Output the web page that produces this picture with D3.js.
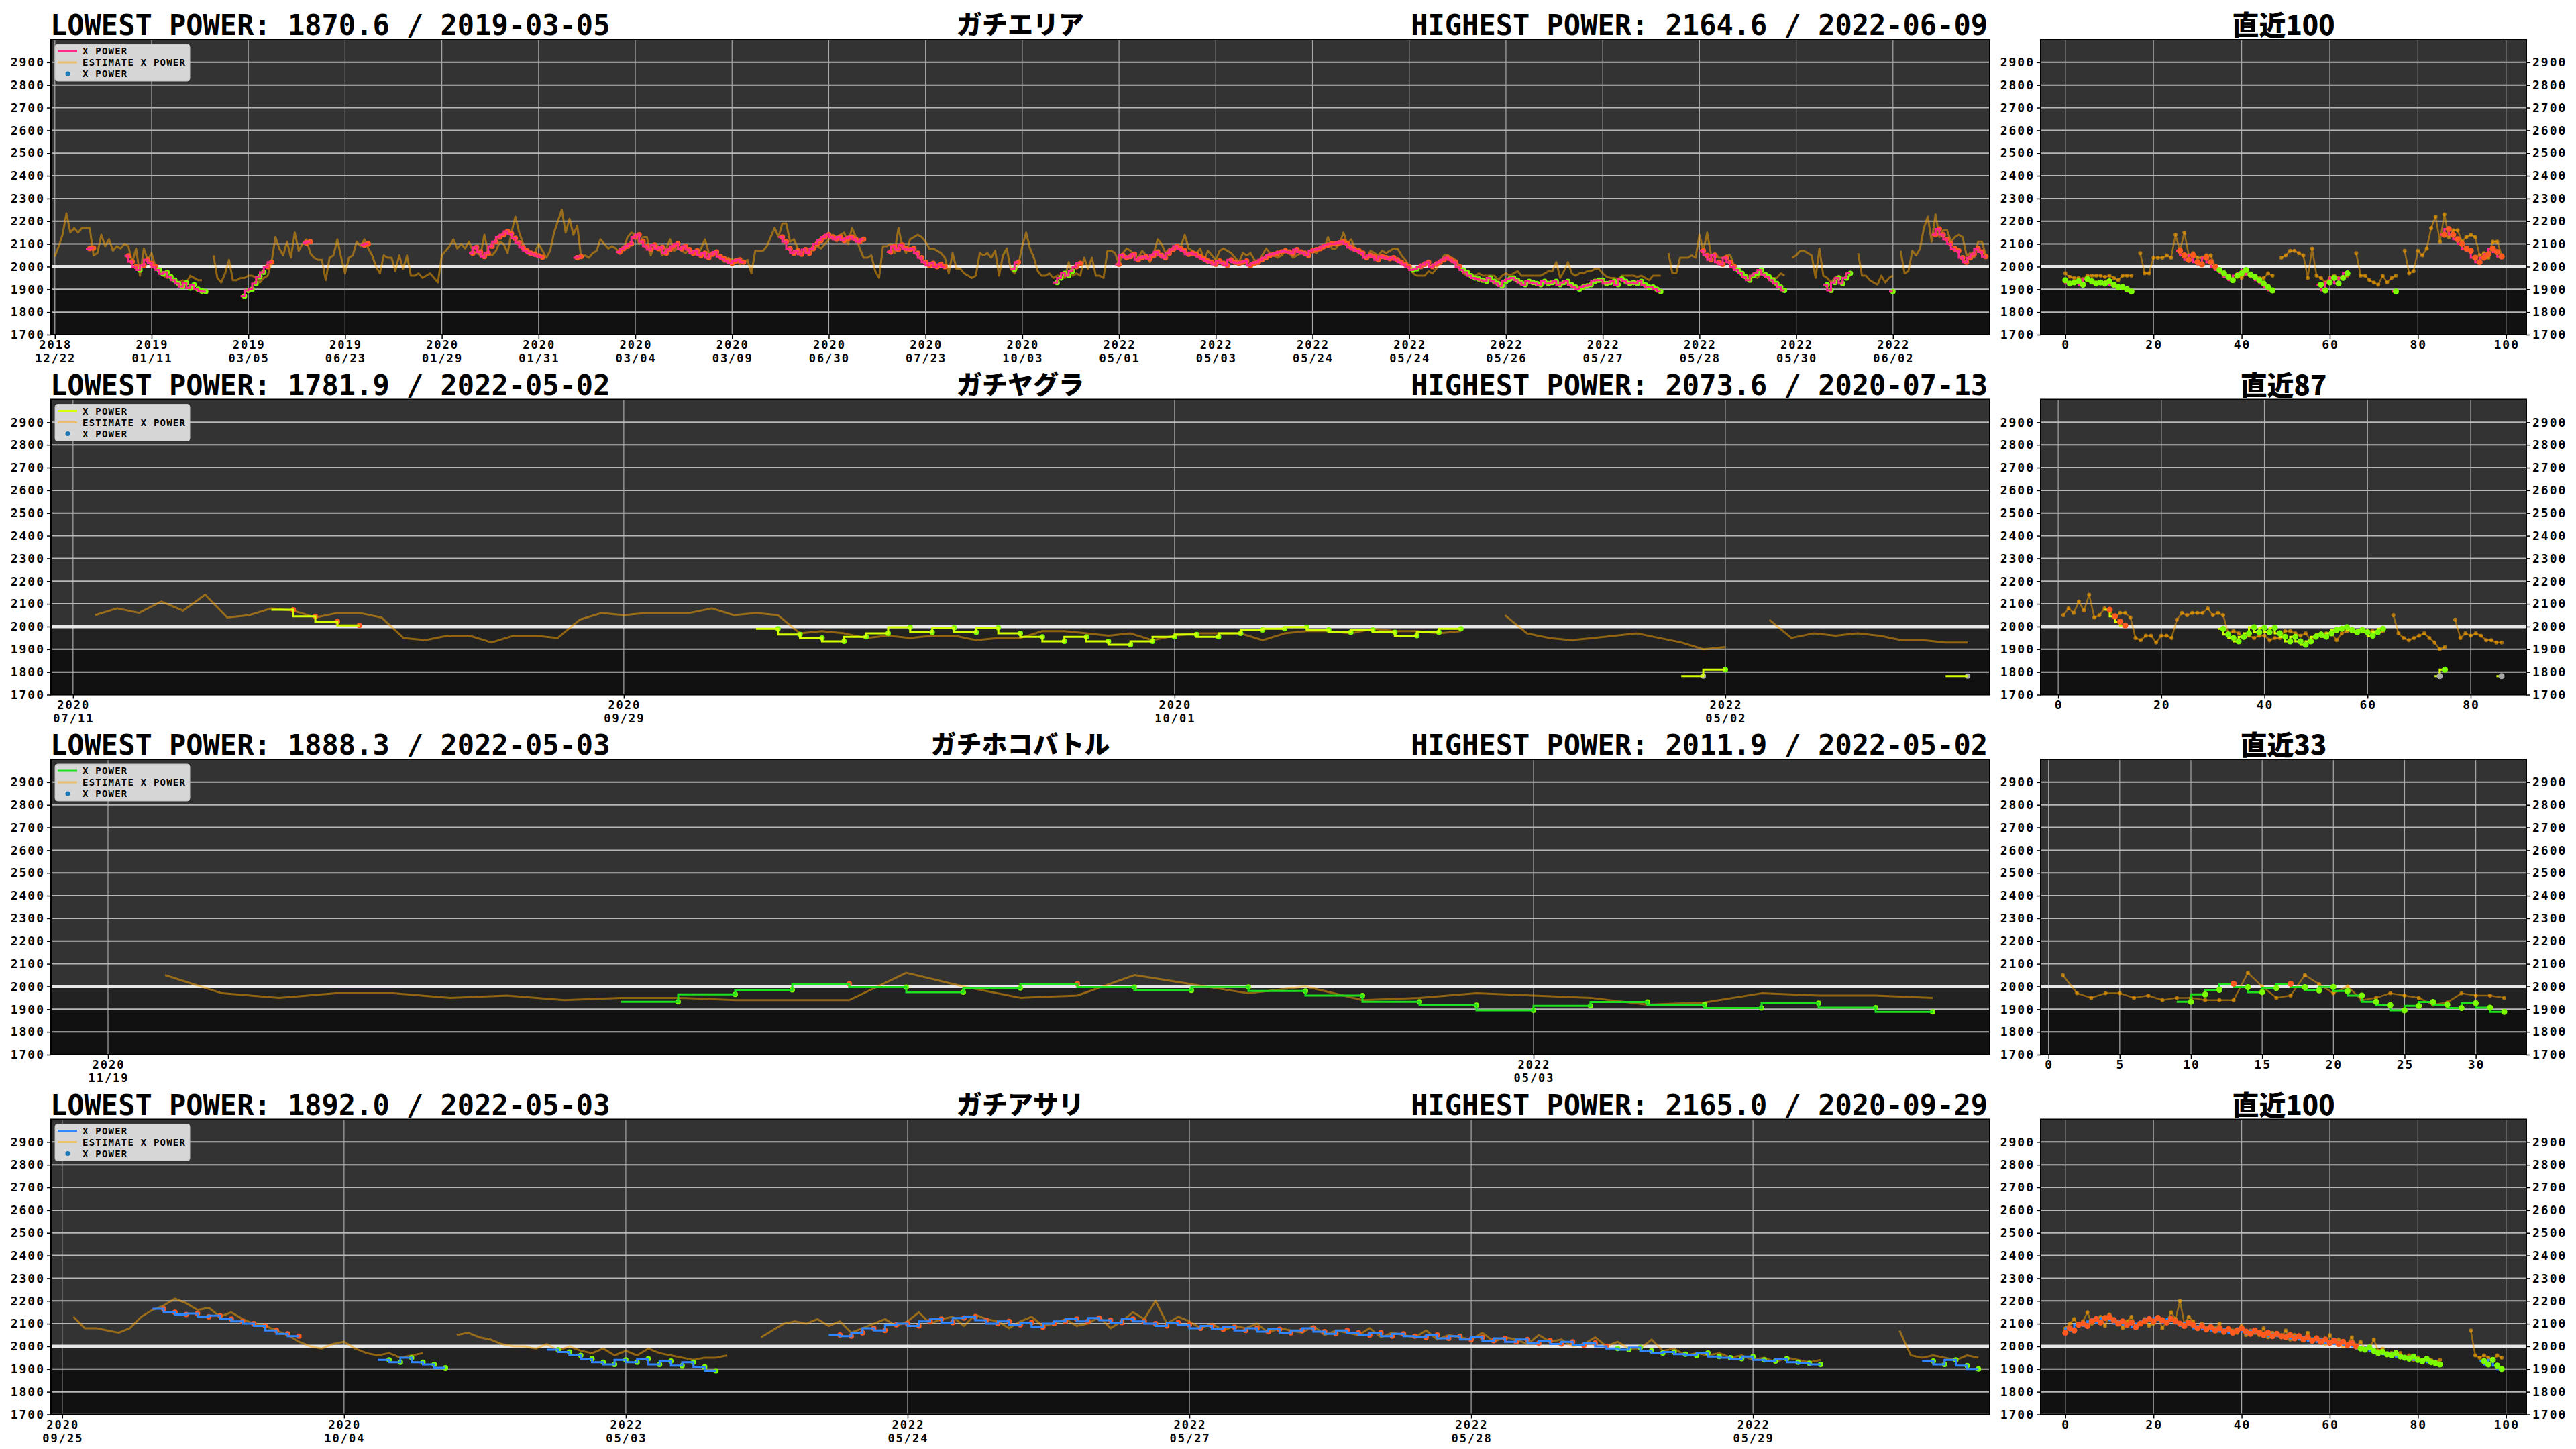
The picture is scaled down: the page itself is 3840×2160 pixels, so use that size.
<!DOCTYPE html>
<html>
<head>
<meta charset="utf-8">
<script src="https://cdn.jsdelivr.net/npm/d3@7"></script>
<style>
  html, body { margin: 0; padding: 0; background: #fff; }
  svg { display: block; }
  .mono { font-family: "DejaVu Sans Mono", "Liberation Mono", monospace; font-weight: bold; }
  .jp { font-family: "Noto Sans CJK JP", sans-serif; font-weight: 900; }
</style>
</head>
<body>
<svg id="chart" width="3840" height="2160"></svg>
<script>
// ---------------- data ----------------
const modeNames = ["ガチエリア", "ガチヤグラ", "ガチホコバトル", "ガチアサリ"];
const lowestText = [
  "LOWEST POWER: 1870.6 / 2019-03-05",
  "LOWEST POWER: 1781.9 / 2022-05-02",
  "LOWEST POWER: 1888.3 / 2022-05-03",
  "LOWEST POWER: 1892.0 / 2022-05-03"
];
const highestText = [
  "HIGHEST POWER: 2164.6 / 2022-06-09",
  "HIGHEST POWER: 2073.6 / 2020-07-13",
  "HIGHEST POWER: 2011.9 / 2022-05-02",
  "HIGHEST POWER: 2165.0 / 2020-09-29"
];
const recentTitles = ["直近100", "直近87", "直近33", "直近100"];
const recentCounts = [100, 87, 33, 100];
const recentTicks = [
  [0, 20, 40, 60, 80, 100],
  [0, 20, 40, 60, 80],
  [0, 5, 10, 15, 20, 25, 30],
  [0, 20, 40, 60, 80, 100]
];
const recentDomains = [[-5.6, 104.6], [-3.4, 90.8], [-0.55, 33.55], [-5.6, 104.6]];
const lineColors = ["#ff2a8a", "#d4ff00", "#1fe01f", "#2f86ff"];
const yTicks = [1700, 1800, 1900, 2000, 2100, 2200, 2300, 2400, 2500, 2600, 2700, 2800, 2900];

// date labels, one every 25 games
const areaDates = ["2018\n12/22", "2019\n01/11", "2019\n03/05", "2019\n06/23", "2020\n01/29",
  "2020\n01/31", "2020\n03/04", "2020\n03/09", "2020\n06/30", "2020\n07/23",
  "2020\n10/03", "2022\n05/01", "2022\n05/03", "2022\n05/24", "2022\n05/24",
  "2022\n05/26", "2022\n05/27", "2022\n05/28", "2022\n05/30", "2022\n06/02"];
const yaguraDates = ["2020\n07/11", "2020\n09/29", "2020\n10/01", "2022\n05/02"];
const hokoDates = ["2020\n11/19", "2022\n05/03"];
const asariDates = ["2020\n09/25", "2020\n10/04", "2022\n05/03", "2022\n05/24", "2022\n05/27",
  "2022\n05/28", "2022\n05/29"];

// estimate x power per game (null = no estimate)
const areaEst = [
  2045, 2090, 2140, 2235, 2150, 2170, 2150, 2170, 2170, 2170, 2050, 2060, 2140, 2090, 2120,
  2070, 2090, 2080, 2100, 2090, 2020, 2080, 1960, 2080, 2030,
  2060, 2000, 1970, 1960, 1950, 1960, 1940, 1930, 1940, 1930, 1960, 1950, 1940, 1940, null,
  null, 2050, 1950, 1930, 1970, 2030, 1940, 1940, 1950, 1950,
  1960, 1960, 1950, 1930, 1950, 1960, 2020, 2130, 2080, 2050, 2110, 2040, 2150, 2070, 2100,
  2120, 2060, 2040, 2030, 2030, 1940, 2040, 2050, 2120, 2040,
  1970, 2040, 2050, 2110, 2090, 2120, 2080, 2050, 2000, 1970, 2050, 2040, 2040, 1980, 2050,
  1990, 2050, 1960, 1960, 1970, 1950, 1960, 1970, 1950, 1930,
  2050, 2070, 2090, 2120, 2080, 2100, 2080, 2110, 2070, 2060, 2050, 2140, 2060, 2050, 2070,
  2110, 2100, 2060, 2150, 2220, 2150, 2100, 2060, 2050, 2060,
  2100, 2070, 2040, 2070, 2150, 2200, 2250, 2150, 2210, 2140, 2180, 2040, 2050, 2040, 2060,
  2070, 2120, 2100, 2080, 2090, 2080, 2060, 2080, 2130, 2150,
  2140, 2100, 2130, 2130, 2050, 2100, 2090, 2050, 2080, 2120, 2070, 2080, 2070, 2060, 2080,
  2060, 2050, 2080, 2120, 2060, 2050, 2060, 2040, 2020, 2040,
  2030, 2030, 2010, 2020, 2030, 1970, 2070, 2070, 2070, 2090, 2130, 2170, 2130, 2190, 2190,
  2110, 2120, 2080, 2060, 2070, 2060, 2080, 2090, 2080, 2100,
  2120, 2140, 2130, 2140, 2150, 2100, 2170, 2130, 2080, 2040, 2040, 2050, 1980, 1950, 2090,
  2090, 2100, 2060, 2170, 2090, 2060, 2120, 2130, 2140, 2130,
  2110, 2080, 2080, 2070, 2060, 2040, 1970, 2060, 1990, 1990, 1970, 1960, 1950, 1960, 2060,
  2050, 2060, 2040, 2070, 1960, 2050, 2080, 1990, 1970, 2010,
  2090, 2150, 2080, 2040, 1980, 1960, 1960, 1970, 1950, 1960, 1960, 1950, 2020, 1960, 1970,
  1960, 2040, 1990, 2040, 1960, 1960, 1950, 2070, 2070, 2060,
  2010, 2060, 2080, 2070, 2050, 2040, 2070, 2050, 2020, 2060, 2120, 2100, 2060, 2080, 2070,
  2080, 2090, 2140, 2080, 2070, 2060, 2080, 2030, 2070, 2050,
  2030, 2070, 2080, 2070, 2060, 2040, 2020, 2060, 2050, 2060, 2030, 2020, 2050, 2080, 2060,
  2050, 2040, 2050, 2070, 2060, 2040, 2050, 2060, 2060, 2060,
  2070, 2060, 2080, 2080, 2130, 2080, 2080, 2100, 2150, 2100, 2120, 2080, 2060, 2050, 2040,
  2070, 2060, 2050, 2070, 2060, 2070, 2080, 2080, 2050, 2030,
  2000, 1970, 1960, 1960, 1960, 1980, 1970, 1990, 2020, 2050, 2050, 2040, 2030, 2000, 1970,
  1960, 1960, 1960, 1970, 1960, 1960, 1960, 1960, 1940, 1960,
  1970, 1960, 1970, 1980, 1960, 1960, 1960, 1960, 1960, 1960, 1970, 1980, 1980, 2020, 1950,
  1980, 2020, 1970, 1960, 1970, 1970, 1980, 1980, 1990, 1990,
  1970, 1955, 1950, 1950, 1945, 1960, 1960, 1960, 1960, 1955, 1960, 1950, 1940, 1960, 1960,
  1960, null, 2060, 1970, 1970, 2040, 2040, 2040, 2050, 2040,
  2140, 2070, 2150, 2050, 2060, 2040, 2040, 2050, 2050, 2000, 1980, 1960, 1950, 1940, 1960,
  1950, 1970, 1960, 1950, 1950, 1950, 1970, 1960, null, 2040,
  2050, 2070, 2070, 2060, 2050, 1950, 2080, 1960, 1950, 1930, 1950, 1960, 1950, 1950, 1960,
  null, 2060, 1960, 1960, 1940, 1930, 1920, 1960, 1930, 1950,
  1960, null, 2070, 1970, 1980, 2070, 2050, 2080, 2170, 2220, 2110, 2230, 2130, 2160, 2160,
  2110, 2130, 2140, 2130, 2050, 2060, 2040, 2110, 2110, 2050
];
const yaguraEst = [
  null, 2050, 2080, 2060, 2110, 2070, 2140, 2040, 2050, 2080, 2070, 2040, 2060, 2060, 2040,
  1950, 1940, 1960, 1960, 1930, 1960, 1960, 1950, 2030, 2060,
  2050, 2060, 2060, 2060, 2080, 2050, 2060, 2050, 1970, 1980, 1970, 1950, 1960, 1950, 1960,
  1960, 1940, 1950, 1950, 1980, 1980, 1970, 1960, 1970, 1940,
  1960, 1970, 1970, 1970, 1940, 1970, 1980, 1980, 1970, 1990, 1980, 1980, 1970, 1980, null,
  2050, 1970, 1950, 1940, 1950, 1960, 1970, 1950, 1930, 1900,
  1910, null, 2030, 1950, 1970, 1960, 1970, 1960, 1940, 1940, 1930, 1930
];
const hokoEst = [
  null, 2050, 1970, 1950, 1970, 1970, 1950, 1960, 1940, 1950, 1950, 1940, 1940, 1940, 2060,
  2000, 1950, 1960, 2050, 2010, 1970, 2000, 1940, 1950, 1970, 1960, 1950, 1920, 1930, 1970,
  1960, 1960, 1950
];
const asariEst = [
  null, 2130, 2080, 2080, 2070, 2060, 2080, 2130, 2160, 2180, 2210, 2190, 2160, 2170, 2130,
  2150, 2120, 2100, 2090, 2070, 2050, 2020, 2000, 1990, 2010,
  2020, 1990, 1970, 1960, 1970, 1950, 1960, 1970, null, null, 2050, 2060, 2040, 2030, 2010,
  2000, 2000, 1990, 2010, 1980, 2000, 1980, 1970, 1990, 1960,
  1980, 1960, 1990, 1970, 1960, 1950, 1940, 1950, 1950, 1960, null, null, 2040, 2070, 2100,
  2110, 2100, 2120, 2090, 2110, 2060, 2080, 2100, 2120, 2090,
  2110, 2150, 2100, 2120, 2130, 2090, 2140, 2120, 2110, 2080, 2110, 2130, 2090, 2100, 2120,
  2090, 2100, 2130, 2080, 2110, 2150, 2120, 2200, 2100, 2130,
  2110, 2080, 2100, 2070, 2090, 2080, 2100, 2060, 2080, 2070, 2060, 2090, 2050, 2070, 2060,
  2050, 2080, 2040, 2060, 2050, 2040, 2070, 2030, 2050, 2040,
  2030, 2060, 2020, 2040, 2030, 2010, 2050, 2020, 2030, 2000, 2010, 2040, 2000, 2020, 1990,
  1990, 2030, 1980, 1990, 1960, 1970, 1960, 1970, 1950, 1960,
  1940, 1950, 1930, 1950, 1940, 1930, 1940, null, null, null, null, null, null, 2070, 1960,
  1950, 1960, 1950, 1940, 1960, 1950
];

// x power runs: [first game index, values]
const areaXp = [
  [9, [2080, 2082]],
  [19, [2048, 2022, 2000, 1985, 2005, 2030, 2015, 2000, 1985, 1968, 1975, 1955, 1940, 1925, 1912,
        1928, 1905, 1920, 1900, 1892, 1890]],
  [49, [1870, 1895, 1900, 1925, 1955, 1975, 2000, 2020]],
  [65, [2105, 2110]],
  [80, [2095, 2100]],
  [108, [2060, 2085, 2065, 2045, 2060, 2090, 2110, 2130, 2140, 2155, 2145, 2125, 2105, 2085, 2070,
         2060, 2055, 2048, 2042]],
  [135, [2040, 2045]],
  [146, [2065, 2080, 2090, 2100, 2130, 2140, 2110, 2090, 2075, 2095, 2080, 2085, 2060, 2075, 2090,
         2100, 2080, 2090, 2075, 2060, 2070, 2050, 2060, 2040, 2055, 2065, 2045, 2035, 2025, 2015,
         2025, 2030, 2020]],
  [188, [2130, 2110, 2080, 2060, 2070, 2055, 2075, 2060, 2080, 2100, 2115, 2130, 2140, 2130, 2120,
         2130, 2115, 2125, 2130, 2120, 2110, 2120]],
  [216, [2065, 2090, 2075, 2095, 2080, 2075, 2080, 2060, 2040, 2020, 2005, 2015, 2000, 2010, 2000]],
  [248, [1988, 2020]],
  [259, [1930, 1950, 1970, 1960, 1980, 2000, 2015]],
  [275, [2010, 2050, 2040, 2045, 2055, 2030, 2040, 2045, 2035, 2050, 2065, 2050, 2040, 2060, 2075,
         2090, 2080, 2070, 2055, 2060, 2055, 2045, 2035, 2025, 2020,
         2010, 2025, 2015, 2005, 2030, 2020, 2015, 2020, 2025, 2005, 2015, 2020, 2030, 2040, 2050,
         2055, 2060, 2065, 2070, 2065, 2060, 2075, 2065, 2060, 2050,
         2070, 2075, 2080, 2090, 2095, 2100, 2100, 2105, 2110, 2100, 2085, 2075, 2070, 2060, 2040,
         2050, 2045, 2030, 2045, 2040, 2035, 2040, 2030, 2020, 2010,
         2000, 1985, 1990, 2000, 2010, 2020, 2000, 2010, 2020, 2030, 2040, 2030, 2020, 2000, 1985,
         1975, 1960, 1950, 1945, 1940, 1935, 1950, 1935, 1925, 1915,
         1935, 1945, 1950, 1940, 1930, 1920, 1935, 1930, 1925, 1920, 1935, 1925, 1930, 1935, 1920,
         1930, 1935, 1920, 1910, 1900, 1910, 1915, 1920, 1935, 1940,
         1940, 1925, 1930, 1935, 1920, 1945, 1935, 1925, 1930, 1925, 1935, 1920, 1910, 1910, 1900,
         1890]],
  [426, [2070, 2050, 2030, 2050, 2020, 2010, 2040, 2020, 2000, 1985, 1970, 1955, 1940, 1960, 1970,
         1985, 1965, 1955, 1940, 1925, 1910, 1895]],
  [458, [1920, 1895, 1930, 1950, 1925, 1950, 1970]],
  [475, [1890]],
  [486, [2140, 2165, 2140, 2120, 2100, 2080, 2070, 2040, 2020, 2040, 2055, 2080, 2065, 2045]]
];
const yaguraXp = [
  [10, [2074, 2045, 2022, 2005]],
  [32, [1990, 1965, 1950, 1935, 1955, 1970, 1997, 1975, 1995, 1975, 1995, 1970, 1955, 1935, 1955,
        1935, 1920, 1935, 1955, 1965, 1955, 1970, 1985, 1990, 1998, 1985, 1975, 1985, 1975, 1960,
        1975, 1990]],
  [74, [1782, 1810]],
  [86, [1782]]
];
const hokoXp = [
  [10, [1933, 1965, 1985, 2012, 1997, 1975, 1993, 2012, 1997, 1983, 1998, 1980, 1960, 1933, 1918,
        1895, 1915, 1932, 1920, 1905, 1927, 1907, 1888]]
];
const asariXp = [
  [9, [2165, 2150, 2140, 2145, 2130, 2135, 2120, 2110, 2100, 2090, 2070, 2055, 2045]],
  [29, [1940, 1930, 1950, 1930, 1920, 1905]],
  [44, [1985, 1975, 1960, 1945, 1930, 1920, 1940, 1930, 1945, 1920, 1935, 1915, 1930, 1910, 1892]],
  [69, [2050, 2045, 2060, 2080, 2070, 2095, 2100, 2090, 2110, 2120, 2105, 2125, 2130, 2115, 2100,
        2110, 2095, 2105, 2085, 2100, 2110, 2120, 2110, 2125, 2115,
        2105, 2120, 2110, 2100, 2090, 2105, 2095, 2080, 2090, 2075, 2085, 2070, 2080, 2065, 2075,
        2060, 2070, 2080, 2065, 2055, 2070, 2060, 2050, 2060, 2045,
        2055, 2045, 2040, 2050, 2035, 2045, 2030, 2040, 2025, 2035, 2020, 2030, 2015, 2025, 2010,
        2020, 2005, 2015, 2000, 1990, 1985, 1995, 1980, 1970, 1975,
        1965, 1960, 1970, 1955, 1950, 1945, 1955, 1940, 1935, 1945, 1930, 1925, 1920]],
  [166, [1935, 1920, 1940, 1915, 1900]]
];

// ---------------- layout ----------------
const PANEL_TOP = 59, PANEL_H = 440, PANEL_GAP = 536.5;
const MAIN_X = [76, 2966], RECENT_X = [3042, 3766];
const EST_COLOR = "#ffa500";

const svg = d3.select("#chart");

function fillXp(n, segs) {
  const arr = new Array(n).fill(null);
  segs.forEach(([s, vals]) => vals.forEach((v, k) => { arr[s + k] = v; }));
  return arr;
}

// consecutive non-null stretches of an array
function runsOf(arr) {
  const out = [];
  let cur = null;
  arr.forEach((v, i) => {
    if (v == null) { cur = null; return; }
    if (!cur) { cur = { start: i, vals: [] }; out.push(cur); }
    cur.vals.push(v);
  });
  return out;
}

function dotColor(v) {
  if (v >= 2000) return "#ff5a1f";
  if (v >= 1800) return "#7cfc00";
  return "#a8a8a8";
}

let clipCount = 0;

function drawPlot(o) {
  const g = svg.append("g");
  const x = d3.scaleLinear().domain(o.xDomain).range(o.xRange);
  const y = d3.scaleLinear().domain([1700, 3000]).range([o.top + PANEL_H, o.top]);
  const [xl, xr] = o.xRange;
  const yb = o.top + PANEL_H;

  const clipId = "clip" + (clipCount++);
  g.append("clipPath").attr("id", clipId).append("rect")
    .attr("x", xl).attr("y", o.top).attr("width", xr - xl).attr("height", PANEL_H);

  // background bands
  const bands = [[2000, 3000, "#333333"], [1900, 2000, "#222222"], [1700, 1900, "#111111"]];
  g.selectAll(".band").data(bands).join("rect")
    .attr("x", xl).attr("width", xr - xl)
    .attr("y", d => y(d[1])).attr("height", d => y(d[0]) - y(d[1]))
    .attr("fill", d => d[2]);

  // grid
  g.selectAll(".vgrid").data(o.xTicks).join("line")
    .attr("x1", d => x(d)).attr("x2", d => x(d))
    .attr("y1", o.top).attr("y2", yb)
    .attr("stroke", "#a8a8a8").attr("stroke-width", 1.2);
  g.selectAll(".hgrid").data(yTicks.filter(t => t !== 2000)).join("line")
    .attr("x1", xl).attr("x2", xr)
    .attr("y1", d => y(d)).attr("y2", d => y(d))
    .attr("stroke", "#b8b8b8").attr("stroke-width", 2);
  g.append("line")
    .attr("x1", xl).attr("x2", xr).attr("y1", y(2000)).attr("y2", y(2000))
    .attr("stroke", "#e6e6e6").attr("stroke-width", 5);

  const plot = g.append("g").attr("clip-path", `url(#${clipId})`);

  // estimate line
  const estPts = o.est.map((v, i) => [i, v]);
  const estLine = d3.line().defined(d => d[1] != null).x(d => x(d[0])).y(d => y(d[1]));
  plot.append("path").attr("d", estLine(estPts))
    .attr("fill", "none").attr("stroke", EST_COLOR).attr("stroke-opacity", 0.5)
    .attr("stroke-width", o.main ? 3 : 2.5).attr("stroke-linejoin", "round");
  if (!o.main) {
    plot.selectAll(".estdot").data(estPts.filter(d => d[1] != null)).join("circle")
      .attr("cx", d => x(d[0])).attr("cy", d => y(d[1])).attr("r", 3)
      .attr("fill", EST_COLOR).attr("fill-opacity", 0.6);
  }

  // x power: step line + dots (main plots keep the line on top)
  const xpPts = o.xp.map((v, i) => [i, v]).filter(d => d[1] != null);
  const step = d3.line().curve(d3.curveStepAfter).x(d => x(d[0])).y(d => y(d[1]));
  const drawDots = () => plot.selectAll(".xpdot").data(xpPts).join("circle")
    .attr("class", "xpdot")
    .attr("cx", d => x(d[0])).attr("cy", d => y(d[1]))
    .attr("r", o.main ? 4 : 4.5)
    .attr("fill", d => dotColor(d[1]));
  const drawSteps = () => runsOf(o.xp).forEach(r => {
    const pts = r.vals.map((v, k) => [k === 0 && r.start === 0 ? 0 : r.start + k - 1, v]);
    pts.push([r.start + r.vals.length - 1, r.vals[r.vals.length - 1]]);
    plot.append("path").attr("d", step(pts))
      .attr("fill", "none").attr("stroke", o.color).attr("stroke-width", 3);
  });
  if (o.main) { drawDots(); drawSteps(); } else { drawSteps(); drawDots(); }

  // frame
  g.append("rect").attr("x", xl).attr("y", o.top).attr("width", xr - xl).attr("height", PANEL_H)
    .attr("fill", "none").attr("stroke", "#000").attr("stroke-width", 2);

  // y axes
  const styleAxis = sel => {
    sel.select(".domain").remove();
    sel.selectAll(".tick line").attr("stroke", "#000").attr("stroke-width", 1.5);
    sel.selectAll(".tick text").attr("class", "mono").attr("font-size", 18)
      .attr("letter-spacing", 2).attr("fill", "#000");
  };
  g.append("g").attr("transform", `translate(${xl},0)`)
    .call(d3.axisLeft(y).tickValues(yTicks).tickSize(6).tickPadding(3).tickFormat(d3.format("d")))
    .call(styleAxis);
  if (!o.main) {
    g.append("g").attr("transform", `translate(${xr},0)`)
      .call(d3.axisRight(y).tickValues(yTicks).tickSize(6).tickPadding(3).tickFormat(d3.format("d")))
      .call(styleAxis);
  }

  // x axis
  g.append("g").attr("transform", `translate(0,${yb})`)
    .call(d3.axisBottom(x).tickValues(o.xTicks).tickSize(6).tickFormat(""))
    .call(sel => {
      sel.select(".domain").remove();
      sel.selectAll(".tick line").attr("stroke", "#000").attr("stroke-width", 1.5);
    });
  // one text per label line, so lines never share a box
  const lines = [];
  o.xTicks.forEach((t, k) => {
    String(o.labels[k]).split("\n").forEach((s, j) => lines.push({ t, s, j }));
  });
  g.selectAll(".xlab").data(lines).join("text")
    .attr("class", "mono").attr("font-size", o.main ? 17 : 18).attr("letter-spacing", 2)
    .attr("fill", "#000").attr("text-anchor", "middle")
    .attr("x", d => x(d.t) + 1).attr("y", d => yb + 21 + d.j * 20)
    .text(d => d.s);

  // legend
  if (o.main) {
    const lg = g.append("g").attr("transform", `translate(${xl + 6},${o.top + 7})`);
    lg.append("rect").attr("width", 201).attr("height", 55).attr("rx", 4)
      .attr("fill", "#d6d6d6").attr("stroke", "#c4c4c4");
    lg.append("line").attr("x1", 4).attr("x2", 33).attr("y1", 10).attr("y2", 10)
      .attr("stroke", o.color).attr("stroke-width", 3);
    lg.append("line").attr("x1", 4).attr("x2", 33).attr("y1", 27).attr("y2", 27)
      .attr("stroke", EST_COLOR).attr("stroke-opacity", 0.5).attr("stroke-width", 3);
    lg.append("circle").attr("cx", 19).attr("cy", 44).attr("r", 3.5).attr("fill", "#1f77b4");
    const legendText = ["X POWER", "ESTIMATE X POWER", "X POWER"];
    lg.selectAll(".lt").data(legendText).join("text")
      .attr("class", "mono").attr("font-size", 14).attr("letter-spacing", 1.2).attr("fill", "#000")
      .attr("x", 41).attr("y", (d, k) => 15 + k * 17).text(d => d);
  }
}

const panels = [
  { est: areaEst, segs: areaXp, dates: areaDates },
  { est: yaguraEst, segs: yaguraXp, dates: yaguraDates },
  { est: hokoEst, segs: hokoXp, dates: hokoDates },
  { est: asariEst, segs: asariXp, dates: asariDates }
];

panels.forEach((p, idx) => {
  const top = PANEL_TOP + idx * PANEL_GAP;
  const n = p.est.length;
  const xp = fillXp(n, p.segs);
  const color = lineColors[idx];

  drawPlot({
    main: true, top, xRange: MAIN_X, xDomain: [-1, n],
    est: p.est, xp, color,
    xTicks: p.dates.map((d, k) => k * 25), labels: p.dates
  });

  const start = n - recentCounts[idx];
  drawPlot({
    main: false, top, xRange: RECENT_X, xDomain: recentDomains[idx],
    est: p.est.slice(start), xp: xp.slice(start), color,
    xTicks: recentTicks[idx], labels: recentTicks[idx]
  });

  // titles
  const ty = top - 7;
  svg.append("text").attr("class", "mono").attr("font-size", 42)
    .attr("x", MAIN_X[0] - 1).attr("y", ty).text(lowestText[idx]);
  svg.append("text").attr("class", "mono").attr("font-size", 42).attr("text-anchor", "end")
    .attr("x", MAIN_X[1] - 3).attr("y", ty).text(highestText[idx]);
  svg.append("text").attr("class", "jp").attr("font-size", 38).attr("text-anchor", "middle")
    .attr("x", (MAIN_X[0] + MAIN_X[1]) / 2).attr("y", ty - 2).text(modeNames[idx]);
  svg.append("text").attr("class", "jp").attr("font-size", 40).attr("text-anchor", "middle")
    .attr("x", (RECENT_X[0] + RECENT_X[1]) / 2).attr("y", ty).text(recentTitles[idx]);
});
</script>
</body>
</html>
